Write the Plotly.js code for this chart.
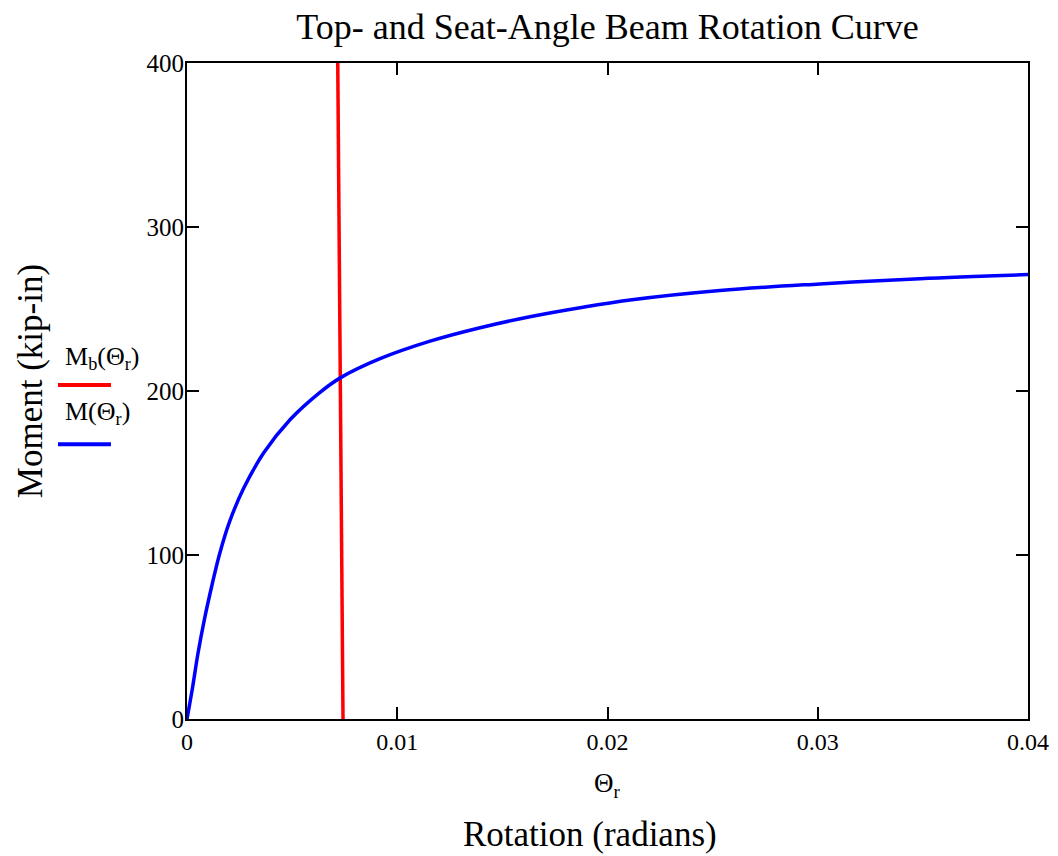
<!DOCTYPE html>
<html>
<head>
<meta charset="utf-8">
<script src="https://cdn.plot.ly/plotly-3.0.1.min.js"></script>
<style>html,body{margin:0;padding:0;background:#fff;}</style>
</head>
<body>
<div id="chart" style="width:1058px;height:856px;"></div>
<script>
// Beam line M_b(theta_r)
const thetaB = [0.00742, 0.00717];
const momentB = [0, 400];
// Connection curve M(theta_r)
const thetaM = [0, 0.00027, 0.000523, 0.000824, 0.001173, 0.00154, 0.00203, 0.0027, 0.00365, 0.00491, 0.00634, 0.00729, 0.00918, 0.01156, 0.01394, 0.01631, 0.01869, 0.02107, 0.02535, 0.0301, 0.03486, 0.04];
const momentM = [0, 19.7, 40.1, 60.5, 80.8, 100.2, 120.5, 140.8, 162.3, 182.6, 199.3, 208, 219.7, 230.4, 238.6, 245.3, 250.8, 255.5, 261.3, 265.3, 268.5, 271];
const xTicks = [0, 0.01, 0.02, 0.03, 0.04];
const xTickText = ['0', '0.01', '0.02', '0.03', '0.04'];
const yTicks = [0, 100, 200, 300, 400];

const serif = 'Liberation Serif';

const traces = [
  {x: thetaB, y: momentB, mode: 'lines', line: {color: '#ff0000', width: 3.5}, name: 'Mb', showlegend: false, hoverinfo: 'none'},
  {x: thetaM, y: momentM, mode: 'lines', line: {color: '#0000ff', width: 3.5, shape: 'spline', smoothing: 1}, name: 'M', showlegend: false, hoverinfo: 'none'}
];

const layout = {
  width: 1058, height: 856, autosize: false,
  paper_bgcolor: '#fff', plot_bgcolor: '#fff',
  margin: {l: 187, r: 30, t: 63, b: 137},
  font: {family: serif, color: '#000', size: 24},
  title: {text: 'Top- and Seat-Angle Beam Rotation Curve', font: {family: serif, size: 36, color: '#000'}, x: 0.5, xref: 'paper', xanchor: 'center', yref: 'container', y: 0.9836, yanchor: 'top'},
  xaxis: {range: [0, 0.04], tickvals: xTicks, ticktext: xTickText, ticks: 'inside', ticklen: 12, tickwidth: 2, tickcolor: '#000',
          showline: true, linewidth: 2, linecolor: '#000', mirror: 'ticks', showgrid: false, zeroline: false,
          tickfont: {family: serif, size: 24, color: '#000'}},
  yaxis: {range: [0, 400], tickvals: yTicks, ticks: 'inside', ticklen: 12, tickwidth: 2, tickcolor: '#000',
          showline: true, linewidth: 2, linecolor: '#000', mirror: 'ticks', showgrid: false, zeroline: false,
          tickfont: {family: serif, size: 25, color: '#000'}, ticklabelstandoff: -4},
  annotations: [
    {text: 'Θ<sub>r</sub>', xref: 'paper', yref: 'paper', x: 0.5, y: -0.1006, xanchor: 'center', yanchor: 'middle', showarrow: false, font: {family: serif, size: 27}},
    {text: 'Rotation (radians)', xref: 'paper', yref: 'paper', x: 0.479, y: -0.1768, xanchor: 'center', yanchor: 'middle', showarrow: false, font: {family: serif, size: 35}},
    {text: 'Moment (kip-in)', xref: 'paper', yref: 'paper', x: -0.1867, y: 0.515, xanchor: 'center', yanchor: 'middle', textangle: -90, showarrow: false, font: {family: serif, size: 35}},
    {text: 'M<sub>b</sub>(Θ<sub>r</sub>)', xref: 'paper', yref: 'paper', x: -0.1474, y: 0.55, xanchor: 'left', yanchor: 'middle', showarrow: false, font: {family: serif, size: 26}},
    {text: 'M(Θ<sub>r</sub>)', xref: 'paper', yref: 'paper', x: -0.1474, y: 0.466, xanchor: 'left', yanchor: 'middle', showarrow: false, font: {family: serif, size: 26}}
  ],
  shapes: [
    {type: 'line', xref: 'paper', yref: 'paper', x0: -0.1534, x1: -0.0904, y0: 0.509, y1: 0.509, line: {color: '#ff0000', width: 4}},
    {type: 'line', xref: 'paper', yref: 'paper', x0: -0.1534, x1: -0.0904, y0: 0.419, y1: 0.419, line: {color: '#0000ff', width: 4}}
  ]
};

Plotly.newPlot('chart', traces, layout, {displayModeBar: false, staticPlot: true});
</script>
</body>
</html>
